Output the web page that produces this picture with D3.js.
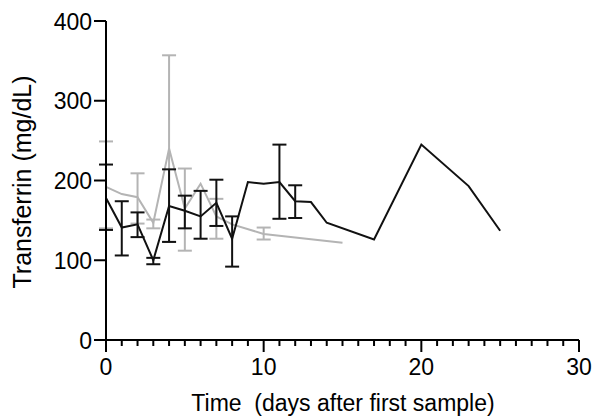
<!DOCTYPE html>
<html>
<head>
<meta charset="utf-8">
<script src="https://cdn.jsdelivr.net/npm/d3@7"></script>
<style>
  body { margin: 0; background: #fff; }
  text { font-family: "Liberation Sans", Arial, sans-serif; }
</style>
</head>
<body>
<script>
// black series (with error bars where present)
var blackDays = [0, 1, 2, 3, 4, 5, 6, 7, 8, 9, 10, 11, 12, 13, 14, 17, 20, 23, 25];
var blackMean = [178, 141, 145, 100, 168, 162, 155, 172, 127, 198, 196, 198, 174, 173, 147, 126, 245, 193, 137];
var blackLo   = [138, 106, 129, 95, 123, 140, 127, 143, 92, null, null, 152, 153, null, null, null, null, null, null];
var blackHi   = [220, 174, 160, 103, 214, 181, 187, 201, 155, null, null, 245, 194, null, null, null, null, null, null];

// grey series
var greyDays = [0, 1, 2, 3, 4, 5, 6, 7, 8, 10, 15];
var greyMean = [192, 183, 179, 147, 240, 165, 196, 155, 145, 133, 122];
var greyLo   = [140, null, 146, 140, 123, 112, null, 127, null, 126, null];
var greyHi   = [249, null, 209, 151, 357, 215, null, 177, null, 141, null];

var xTicks = [0, 10, 20, 30];
var yTicks = [0, 100, 200, 300, 400];

var w = 595, h = 418;
var svg = d3.select("body").append("svg")
    .attr("width", w)
    .attr("height", h);

var x = d3.scaleLinear().domain([0, 30]).range([106, 579]);
var y = d3.scaleLinear().domain([0, 400]).range([340, 21]);

function rows(days, mean, lo, hi) {
    return days.map((d, i) => ({day: d, v: mean[i], lo: lo[i], hi: hi[i]}));
}

var line = d3.line().x(d => x(d.day)).y(d => y(d.v));

function drawSeries(data, color) {
    var s = svg.append("g");
    var withErr = data.filter(d => d.lo != null);
    s.selectAll(".bar").data(withErr).join("line")
        .attr("x1", d => x(d.day)).attr("x2", d => x(d.day))
        .attr("y1", d => y(d.lo)).attr("y2", d => y(d.hi))
        .attr("stroke", color).attr("stroke-width", 2);
    ["lo", "hi"].forEach(k => {
        s.selectAll(".cap" + k).data(withErr).join("line")
            .attr("x1", d => x(d.day) - 7).attr("x2", d => x(d.day) + 7)
            .attr("y1", d => y(d[k])).attr("y2", d => y(d[k]))
            .attr("stroke", color).attr("stroke-width", 2);
    });
    s.append("path")
        .datum(data)
        .attr("d", line)
        .attr("fill", "none")
        .attr("stroke", color)
        .attr("stroke-width", 2)
        .attr("stroke-linejoin", "miter");
}

drawSeries(rows(greyDays, greyMean, greyLo, greyHi), "#b4b4b4");
drawSeries(rows(blackDays, blackMean, blackLo, blackHi), "#111");

// x axis, minor ticks every day
var xAxis = svg.append("g").attr("transform", "translate(0,340)");
xAxis.append("line").attr("x1", x(0)).attr("x2", x(30))
    .attr("stroke", "#000").attr("stroke-width", 2);
xAxis.selectAll(".minor").data(d3.range(0, 31)).join("line")
    .attr("x1", d => x(d)).attr("x2", d => x(d))
    .attr("y1", 0).attr("y2", d => d % 10 == 0 ? 12 : 6)
    .attr("stroke", "#000").attr("stroke-width", 2);
xAxis.selectAll("text").data(xTicks).join("text")
    .attr("x", d => x(d)).attr("y", 35)
    .attr("text-anchor", "middle")
    .attr("font-size", 23)
    .text(d => d);

// y axis
var yAxis = svg.append("g");
yAxis.append("line").attr("x1", 106).attr("x2", 106)
    .attr("y1", y(0)).attr("y2", y(400))
    .attr("stroke", "#000").attr("stroke-width", 2);
yAxis.selectAll(".tick").data(yTicks).join("line")
    .attr("x1", 94).attr("x2", 106)
    .attr("y1", d => y(d)).attr("y2", d => y(d))
    .attr("stroke", "#000").attr("stroke-width", 2);
yAxis.selectAll("text").data(yTicks).join("text")
    .attr("x", 92).attr("y", d => y(d) + 8.5)
    .attr("text-anchor", "end")
    .attr("font-size", 23)
    .text(d => d);

// titles
svg.append("text")
    .attr("x", 343).attr("y", 411)
    .attr("text-anchor", "middle")
    .attr("font-size", 23)
    .attr("xml:space", "preserve")
    .style("white-space", "pre")
    .text("Time  (days after first sample)");

svg.append("text")
    .attr("transform", "translate(31,182) rotate(-90)")
    .attr("text-anchor", "middle")
    .attr("font-size", 25)
    .text("Transferrin (mg/dL)");
</script>
</body>
</html>
